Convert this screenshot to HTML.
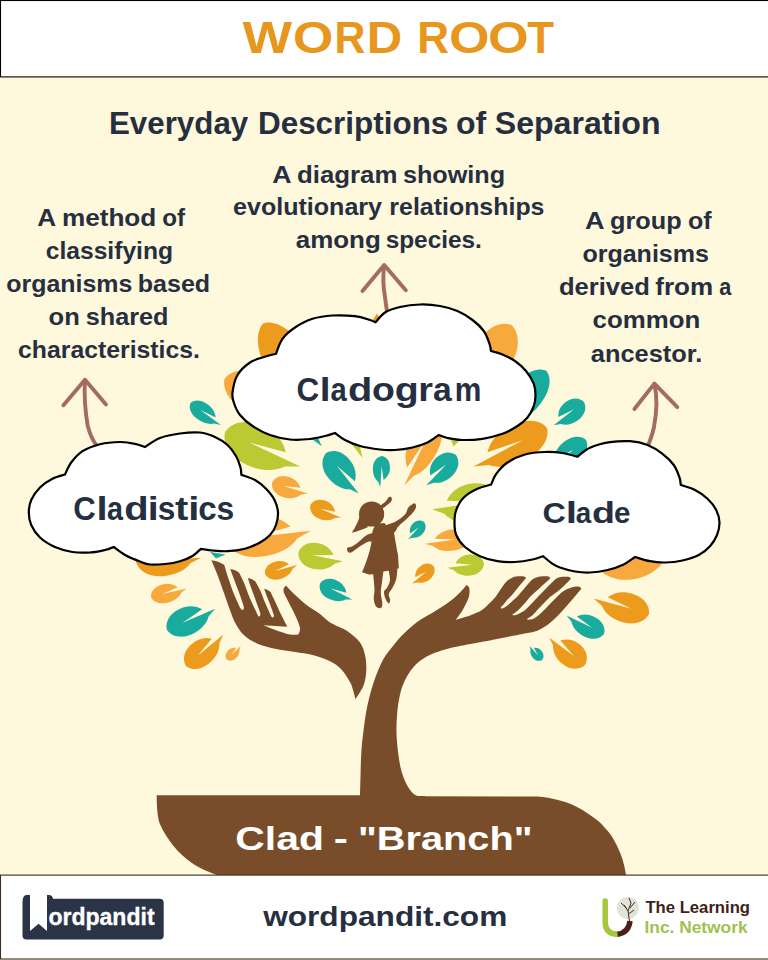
<!DOCTYPE html><html><head><meta charset="utf-8"><title>Word Root - Clad</title>
<style>html,body{margin:0;padding:0;background:#fff}svg{display:block}text{font-family:"Liberation Sans",sans-serif;white-space:pre}</style></head><body>
<svg width="768" height="960" viewBox="0 0 768 960">
<rect x="0" y="0" width="768" height="960" fill="#fef8dc"/>
<rect x="0.5" y="0.5" width="769" height="76.4" fill="#fff" stroke="#000" stroke-width="1.1"/>
<text y="52.5" font-size="44.3" fill="#e8971e" font-weight="bold"><tspan x="242.60" textLength="49.54" lengthAdjust="spacingAndGlyphs">W</tspan><tspan x="292.93" textLength="40.29" lengthAdjust="spacingAndGlyphs">O</tspan><tspan x="334.42" textLength="30.93" lengthAdjust="spacingAndGlyphs">R</tspan><tspan x="366.81" textLength="35.46" lengthAdjust="spacingAndGlyphs">D</tspan> <tspan x="417.13" textLength="31.84" lengthAdjust="spacingAndGlyphs">R</tspan><tspan x="448.92" textLength="40.51" lengthAdjust="spacingAndGlyphs">O</tspan><tspan x="488.11" textLength="40.63" lengthAdjust="spacingAndGlyphs">O</tspan><tspan x="527.26" textLength="26.82" lengthAdjust="spacingAndGlyphs">T</tspan></text>
<g font-size="30.8" fill="#262f40" font-weight="bold">
<text x="108.96" y="134.0" textLength="139.28" lengthAdjust="spacingAndGlyphs">Everyday</text>
<text x="257.96" y="134.0" textLength="190.37" lengthAdjust="spacingAndGlyphs">Descriptions</text>
<text x="455.92" y="134.0" textLength="30.25" lengthAdjust="spacingAndGlyphs">of</text>
<text x="494.74" y="134.0" textLength="165.79" lengthAdjust="spacingAndGlyphs">Separation</text>
</g>
<g font-size="24" fill="#262f40" font-weight="bold">
<text x="272.23" y="183.4" textLength="19.29" lengthAdjust="spacingAndGlyphs">A</text>
<text x="296.97" y="183.4" textLength="100.38" lengthAdjust="spacingAndGlyphs">diagram</text>
<text x="402.92" y="183.4" textLength="102.23" lengthAdjust="spacingAndGlyphs">showing</text>
<text x="233.00" y="215.3" textLength="149.05" lengthAdjust="spacingAndGlyphs">evolutionary</text>
<text x="389.38" y="215.3" textLength="155.09" lengthAdjust="spacingAndGlyphs">relationships</text>
<text x="295.82" y="247.6" textLength="84.94" lengthAdjust="spacingAndGlyphs">among</text>
<text x="385.65" y="247.6" textLength="96.19" lengthAdjust="spacingAndGlyphs">species.</text>
</g>
<g font-size="24" fill="#262f40" font-weight="bold">
<text x="37.25" y="225.8" textLength="18.86" lengthAdjust="spacingAndGlyphs">A</text>
<text x="61.90" y="225.8" textLength="94.42" lengthAdjust="spacingAndGlyphs">method</text>
<text x="162.33" y="225.8" textLength="22.84" lengthAdjust="spacingAndGlyphs">of</text>
<text x="45.71" y="258.7" textLength="127.36" lengthAdjust="spacingAndGlyphs">classifying</text>
<text x="6.30" y="292.3" textLength="125.95" lengthAdjust="spacingAndGlyphs">organisms</text>
<text x="137.77" y="292.3" textLength="72.36" lengthAdjust="spacingAndGlyphs">based</text>
<text x="48.58" y="324.9" textLength="31.20" lengthAdjust="spacingAndGlyphs">on</text>
<text x="85.72" y="324.9" textLength="82.71" lengthAdjust="spacingAndGlyphs">shared</text>
<text x="18.01" y="357.9" textLength="181.98" lengthAdjust="spacingAndGlyphs">characteristics.</text>
</g>
<g font-size="24" fill="#262f40" font-weight="bold">
<text x="585.02" y="228.7" textLength="19.51" lengthAdjust="spacingAndGlyphs">A</text>
<text x="609.99" y="228.7" textLength="71.59" lengthAdjust="spacingAndGlyphs">group</text>
<text x="688.00" y="228.7" textLength="23.68" lengthAdjust="spacingAndGlyphs">of</text>
<text x="582.40" y="261.6" textLength="126.56" lengthAdjust="spacingAndGlyphs">organisms</text>
<text x="558.98" y="294.9" textLength="90.84" lengthAdjust="spacingAndGlyphs">derived</text>
<text x="655.31" y="294.9" textLength="57.88" lengthAdjust="spacingAndGlyphs">from</text>
<text x="719.25" y="294.9" textLength="12.06" lengthAdjust="spacingAndGlyphs">a</text>
<text x="592.57" y="328.3" textLength="107.64" lengthAdjust="spacingAndGlyphs">common</text>
<text x="590.84" y="361.5" textLength="111.44" lengthAdjust="spacingAndGlyphs">ancestor.</text>
</g>
<g>
<path d="M0 0C2 -14 14 -27 36 -28C54 -29 68 -22 77 -9L32 -0.5L100 0.5L83 9C75 20 60 28 40 28C18 28 3 16 0 0Z" fill="#ec9b1d" transform="translate(263.0 323.5) rotate(57.8) scale(1.258 0.786)"/>
<path d="M0 0C2 -14 14 -27 36 -28C54 -29 68 -22 77 -9L32 -0.5L100 0.5L83 9C75 20 60 28 40 28C18 28 3 16 0 0Z" fill="#f8a93d" transform="translate(224.5 379.0) rotate(25.5) scale(0.836 0.679)"/>
<path d="M0 0C2 -14 14 -27 36 -28C54 -29 68 -22 77 -9L32 -0.5L100 0.5L83 9C75 20 60 28 40 28C18 28 3 16 0 0Z" fill="#19ac9e" transform="translate(190.5 403.0) rotate(35.8) scale(0.376 0.321)"/>
<path d="M0 0C2 -14 14 -27 36 -28C54 -29 68 -22 77 -9L32 -0.5L100 0.5L83 9C75 20 60 28 40 28C18 28 3 16 0 0Z" fill="#bbc932" transform="translate(225.0 432.0) rotate(24.4) scale(0.828 0.750)"/>
<path d="M0 0C2 -14 14 -27 36 -28C54 -29 68 -22 77 -9L32 -0.5L100 0.5L83 9C75 20 60 28 40 28C18 28 3 16 0 0Z" fill="#19ac9e" transform="translate(326.0 453.0) rotate(50.7) scale(0.521 0.500)"/>
<path d="M0 0C2 -14 14 -27 36 -28C54 -29 68 -22 77 -9L32 -0.5L100 0.5L83 9C75 20 60 28 40 28C18 28 3 16 0 0Z" fill="#f8a93d" transform="translate(272.0 483.0) rotate(16.1) scale(0.372 0.375)"/>
<path d="M0 0C2 -14 14 -27 36 -28C54 -29 68 -22 77 -9L32 -0.5L100 0.5L83 9C75 20 60 28 40 28C18 28 3 16 0 0Z" fill="#ec9b1d" transform="translate(310.4 505.0) rotate(21.9) scale(0.330 0.339)"/>
<path d="M0 0C2 -14 14 -27 36 -28C54 -29 68 -22 77 -9L32 -0.5L100 0.5L83 9C75 20 60 28 40 28C18 28 3 16 0 0Z" fill="#f8a93d" transform="translate(226.0 541.0) rotate(-7.1) scale(0.855 0.714)"/>
<path d="M0 0C2 -14 14 -27 36 -28C54 -29 68 -22 77 -9L32 -0.5L100 0.5L83 9C75 20 60 28 40 28C18 28 3 16 0 0Z" fill="#bbc932" transform="translate(298.3 553.0) rotate(10.1) scale(0.454 0.464)"/>
<path d="M0 0C2 -14 14 -27 36 -28C54 -29 68 -22 77 -9L32 -0.5L100 0.5L83 9C75 20 60 28 40 28C18 28 3 16 0 0Z" fill="#19ac9e" transform="translate(382.0 456.0) rotate(92.8) scale(0.310 0.304)"/>
<path d="M0 0C2 -14 14 -27 36 -28C54 -29 68 -22 77 -9L32 -0.5L100 0.5L83 9C75 20 60 28 40 28C18 28 3 16 0 0Z" fill="#f8a93d" transform="translate(437.0 418.0) rotate(116.2) scale(0.747 -0.536)"/>
<path d="M0 0C2 -14 14 -27 36 -28C54 -29 68 -22 77 -9L32 -0.5L100 0.5L83 9C75 20 60 28 40 28C18 28 3 16 0 0Z" fill="#19ac9e" transform="translate(456.0 455.0) rotate(134.8) scale(0.423 -0.429)"/>
<path d="M0 0C2 -14 14 -27 36 -28C54 -29 68 -22 77 -9L32 -0.5L100 0.5L83 9C75 20 60 28 40 28C18 28 3 16 0 0Z" fill="#19ac9e" transform="translate(424.0 522.0) rotate(132.9) scale(0.232 -0.250)"/>
<path d="M0 0C2 -14 14 -27 36 -28C54 -29 68 -22 77 -9L32 -0.5L100 0.5L83 9C75 20 60 28 40 28C18 28 3 16 0 0Z" fill="#f8a93d" transform="translate(470.0 538.0) rotate(173.1) scale(0.455 -0.375)"/>
<path d="M0 0C2 -14 14 -27 36 -28C54 -29 68 -22 77 -9L32 -0.5L100 0.5L83 9C75 20 60 28 40 28C18 28 3 16 0 0Z" fill="#bbc932" transform="translate(484.0 563.5) rotate(173.6) scale(0.369 -0.375)"/>
<path d="M0 0C2 -14 14 -27 36 -28C54 -29 68 -22 77 -9L32 -0.5L100 0.5L83 9C75 20 60 28 40 28C18 28 3 16 0 0Z" fill="#ec9b1d" transform="translate(433.5 566.0) rotate(141.3) scale(0.277 -0.286)"/>
<path d="M0 0C2 -14 14 -27 36 -28C54 -29 68 -22 77 -9L32 -0.5L100 0.5L83 9C75 20 60 28 40 28C18 28 3 16 0 0Z" fill="#f8a93d" transform="translate(511.5 325.0) rotate(121.2) scale(0.877 -0.714)"/>
<path d="M0 0C2 -14 14 -27 36 -28C54 -29 68 -22 77 -9L32 -0.5L100 0.5L83 9C75 20 60 28 40 28C18 28 3 16 0 0Z" fill="#19ac9e" transform="translate(546.5 371.0) rotate(128.2) scale(0.751 -0.554)"/>
<path d="M0 0C2 -14 14 -27 36 -28C54 -29 68 -22 77 -9L32 -0.5L100 0.5L83 9C75 20 60 28 40 28C18 28 3 16 0 0Z" fill="#19ac9e" transform="translate(584.0 402.0) rotate(143.0) scale(0.382 -0.393)"/>
<path d="M0 0C2 -14 14 -27 36 -28C54 -29 68 -22 77 -9L32 -0.5L100 0.5L83 9C75 20 60 28 40 28C18 28 3 16 0 0Z" fill="#ec9b1d" transform="translate(547.0 428.0) rotate(152.6) scale(0.830 -0.661)"/>
<path d="M0 0C2 -14 14 -27 36 -28C54 -29 68 -22 77 -9L32 -0.5L100 0.5L83 9C75 20 60 28 40 28C18 28 3 16 0 0Z" fill="#19ac9e" transform="translate(586.0 440.0) rotate(141.7) scale(0.484 -0.429)"/>
<path d="M0 0C2 -14 14 -27 36 -28C54 -29 68 -22 77 -9L32 -0.5L100 0.5L83 9C75 20 60 28 40 28C18 28 3 16 0 0Z" fill="#f8a93d" transform="translate(592.0 556.0) rotate(-5.2) scale(0.884 0.964)"/>
<path d="M0 0C2 -14 14 -27 36 -28C54 -29 68 -22 77 -9L32 -0.5L100 0.5L83 9C75 20 60 28 40 28C18 28 3 16 0 0Z" fill="#ec9b1d" transform="translate(649.0 614.0) rotate(-164.2) scale(0.575 -0.536)"/>
<path d="M0 0C2 -14 14 -27 36 -28C54 -29 68 -22 77 -9L32 -0.5L100 0.5L83 9C75 20 60 28 40 28C18 28 3 16 0 0Z" fill="#19ac9e" transform="translate(604.0 634.0) rotate(-153.5) scale(0.417 -0.393)"/>
<path d="M0 0C2 -14 14 -27 36 -28C54 -29 68 -22 77 -9L32 -0.5L100 0.5L83 9C75 20 60 28 40 28C18 28 3 16 0 0Z" fill="#ec9b1d" transform="translate(585.0 665.0) rotate(-142.2) scale(0.448 -0.464)"/>
<path d="M0 0C2 -14 14 -27 36 -28C54 -29 68 -22 77 -9L32 -0.5L100 0.5L83 9C75 20 60 28 40 28C18 28 3 16 0 0Z" fill="#19ac9e" transform="translate(542.0 660.0) rotate(-130.7) scale(0.187 -0.196)"/>
<path d="M0 0C2 -14 14 -27 36 -28C54 -29 68 -22 77 -9L32 -0.5L100 0.5L83 9C75 20 60 28 40 28C18 28 3 16 0 0Z" fill="#ec9b1d" transform="translate(136.0 562.0) rotate(-4.0) scale(0.652 0.571)"/>
<path d="M0 0C2 -14 14 -27 36 -28C54 -29 68 -22 77 -9L32 -0.5L100 0.5L83 9C75 20 60 28 40 28C18 28 3 16 0 0Z" fill="#f8a93d" transform="translate(151.0 597.0) rotate(-13.8) scale(0.366 0.339)"/>
<path d="M0 0C2 -14 14 -27 36 -28C54 -29 68 -22 77 -9L32 -0.5L100 0.5L83 9C75 20 60 28 40 28C18 28 3 16 0 0Z" fill="#19ac9e" transform="translate(167.0 630.0) rotate(-24.1) scale(0.526 0.500)"/>
<path d="M0 0C2 -14 14 -27 36 -28C54 -29 68 -22 77 -9L32 -0.5L100 0.5L83 9C75 20 60 28 40 28C18 28 3 16 0 0Z" fill="#ec9b1d" transform="translate(186.0 666.0) rotate(-40.3) scale(0.485 0.464)"/>
<path d="M0 0C2 -14 14 -27 36 -28C54 -29 68 -22 77 -9L32 -0.5L100 0.5L83 9C75 20 60 28 40 28C18 28 3 16 0 0Z" fill="#f8a93d" transform="translate(226.7 659.6) rotate(-44.4) scale(0.194 0.196)"/>
<path d="M0 0C2 -14 14 -27 36 -28C54 -29 68 -22 77 -9L32 -0.5L100 0.5L83 9C75 20 60 28 40 28C18 28 3 16 0 0Z" fill="#ec9b1d" transform="translate(265.0 574.0) rotate(-16.0) scale(0.333 0.321)"/>
<path d="M0 0C2 -14 14 -27 36 -28C54 -29 68 -22 77 -9L32 -0.5L100 0.5L83 9C75 20 60 28 40 28C18 28 3 16 0 0Z" fill="#19ac9e" transform="translate(320.0 583.5) rotate(25.9) scale(0.361 0.357)"/>
<path d="M0 0C2 -14 14 -27 36 -28C54 -29 68 -22 77 -9L32 -0.5L100 0.5L83 9C75 20 60 28 40 28C18 28 3 16 0 0Z" fill="#bbc932" transform="translate(500.0 500.0) rotate(172.5) scale(0.686 -0.714)"/>
<path d="M348 440L360 447L362.5 458Q355 448 348 440Z" fill="#bbc932"/>
<path d="M451 440L459 441L453.5 446.5Z" fill="#bbc932"/>
<path d="M210 552L225.5 554.5L216 558.5Z" fill="#19ac9e"/>
<path d="M371.5 322L377 313.5L381.5 321Z" fill="#ec9b1d"/>
<path d="M310.5 438L318.5 439L321.8 446.3Z" fill="#19ac9e"/>
</g>
<g fill="#7a4d2a">
<path d="M360.0 796.0 C360.1 792.2 360.4 780.5 360.6 773.0 C360.8 765.5 360.9 758.3 361.4 751.0 C361.9 743.7 362.7 736.9 363.7 729.3 C364.7 721.7 365.7 713.5 367.4 705.6 C369.1 697.7 371.2 689.5 373.8 681.9 C376.3 674.3 379.6 666.1 382.9 660.0 C386.2 653.9 390.1 649.6 393.8 645.0 C397.4 640.4 400.6 636.7 405.0 632.5 C409.4 628.3 415.0 623.5 420.0 620.0 C425.0 616.5 430.0 614.4 435.0 611.2 C440.0 608.1 445.8 604.4 450.0 601.2 C454.2 598.1 457.2 595.2 460.0 592.5 C462.8 589.8 465.4 586.2 466.5 585.0 C467.0 585.5 468.9 586.0 469.3 588.0 C469.7 590.0 469.8 593.4 468.8 597.0 C467.7 600.6 465.2 605.6 463.0 609.4 C460.8 613.2 456.8 618.2 455.6 620.0 C458.2 619.2 466.9 616.7 471.2 615.0 C475.6 613.3 478.9 612.0 482.0 610.0 C485.1 608.0 487.7 605.1 490.0 602.8 C492.3 600.5 494.2 598.6 496.0 596.2 C497.8 593.9 499.2 591.2 501.0 588.7 C502.8 586.2 504.9 583.1 506.8 581.2 C508.8 579.3 510.6 578.2 512.7 577.4 C514.8 576.6 517.4 576.4 519.3 576.3 C521.2 576.1 522.9 576.2 524.0 576.5 C525.1 576.8 525.8 577.3 525.8 578.0 C525.8 578.7 525.3 578.9 523.9 580.6 C522.5 582.3 519.6 585.6 517.5 588.2 C515.4 590.8 512.7 594.2 511.1 596.0 C509.5 597.8 509.3 597.7 508.0 599.1 C506.7 600.5 504.7 603.1 503.5 604.5 C502.3 605.9 500.9 607.0 500.8 607.6 C500.7 608.2 501.8 608.8 503.0 608.3 C504.2 607.8 506.3 606.2 508.0 604.9 C509.7 603.5 511.6 601.7 513.2 600.2 C514.9 598.7 516.0 598.0 517.9 596.0 C519.8 594.0 522.2 590.8 524.5 588.2 C526.8 585.6 529.4 582.1 531.4 580.3 C533.4 578.5 534.6 578.1 536.5 577.4 C538.4 576.7 540.7 576.5 542.7 576.3 C544.7 576.1 547.1 576.1 548.3 576.4 C549.5 576.7 550.0 577.3 550.0 578.0 C550.0 578.7 549.8 578.9 548.0 580.6 C546.2 582.3 542.4 585.6 539.5 588.2 C536.6 590.8 533.3 593.6 530.9 596.0 C528.5 598.4 527.3 600.5 525.2 602.8 C523.1 605.1 520.5 608.0 518.4 610.0 C516.3 612.0 513.2 613.7 512.6 614.6 C512.0 615.5 513.5 615.4 514.5 615.3 C515.5 615.2 516.6 614.9 518.4 614.0 C520.2 613.1 523.0 611.7 525.2 610.0 C527.4 608.3 529.1 606.1 531.4 603.8 C533.6 601.5 536.2 598.6 538.7 596.0 C541.2 593.4 544.0 590.5 546.5 588.0 C549.0 585.5 551.6 582.7 553.5 581.0 C555.4 579.3 556.2 578.5 558.0 577.8 C559.8 577.1 562.6 576.9 564.4 576.8 C566.2 576.7 567.9 576.7 569.0 577.0 C570.1 577.3 570.8 577.9 570.8 578.6 C570.8 579.3 570.6 579.2 568.8 581.0 C567.0 582.8 563.0 587.0 560.0 589.5 C557.0 592.0 553.0 594.7 551.0 596.3 C549.0 597.9 550.0 597.1 548.0 599.1 C546.0 601.1 541.8 605.3 539.2 608.0 C536.7 610.7 534.5 613.5 532.5 615.3 C530.5 617.1 527.7 618.3 527.2 619.0 C526.7 619.7 528.4 619.7 529.5 619.6 C530.6 619.5 532.2 619.4 534.0 618.4 C535.8 617.4 538.0 615.8 540.3 613.7 C542.6 611.6 545.1 608.9 548.0 605.9 C550.9 602.9 555.3 598.4 557.8 596.0 C560.3 593.6 561.3 592.7 563.0 591.5 C564.7 590.3 566.0 589.5 568.0 588.7 C570.0 587.9 572.8 587.0 574.7 586.7 C576.6 586.4 578.4 586.6 579.5 586.9 C580.6 587.2 581.3 587.9 581.3 588.6 C581.3 589.3 580.5 589.7 579.2 591.2 C578.0 592.7 575.7 595.6 573.8 597.8 C571.9 600.0 570.1 602.1 568.0 604.5 C565.9 606.9 563.5 609.6 561.3 612.0 C559.1 614.4 556.9 616.6 554.7 618.7 C552.5 620.8 550.2 622.8 548.0 624.5 C545.8 626.2 543.5 627.5 541.3 628.7 C539.1 629.9 537.8 630.7 534.7 631.6 C531.6 632.5 526.8 633.2 522.6 634.0 C518.4 634.8 514.9 635.5 509.5 636.6 C504.1 637.7 494.6 639.6 490.0 640.5 C485.4 641.4 486.6 641.0 481.7 641.9 C476.8 642.8 466.9 644.5 460.8 645.8 C454.7 647.1 449.8 648.1 445.0 649.5 C440.2 650.9 435.8 652.3 432.0 654.0 C428.2 655.7 425.0 657.4 422.0 659.5 C419.0 661.6 416.4 663.8 414.0 666.5 C411.6 669.2 409.4 672.2 407.5 675.5 C405.6 678.8 403.9 682.2 402.5 686.0 C401.1 689.8 400.2 693.7 399.3 698.0 C398.4 702.3 397.8 706.2 397.3 712.0 C396.8 717.8 396.3 725.9 396.5 733.0 C396.7 740.1 397.5 748.1 398.4 754.8 C399.3 761.5 400.3 767.5 402.0 773.0 C403.7 778.5 406.1 783.9 408.4 787.6 C410.7 791.3 412.9 793.9 415.7 795.2 C418.5 796.6 423.4 795.9 425.0 796.0 L425.0 800.0 L360.0 800.0 Z"/>
<path d="M156.7 795.2L362 795.2L420 796.2L537.5 796.5C550 797 570 802 582.5 810C590 815 596 819 600 822.5C606 829 610 833 612.5 837.5C617 845 619 850 621 855C623.5 862 625 868 626 875L217 875C205 871 200 868 194 864.6C186 859 179 853 173.3 845.8C166 836 161 828 158.75 820.8C157 812 156.7 804 156.7 795.2Z"/>
<path d="M211.4 560.3 C212.5 560.5 215.8 561.0 218.0 561.8 C220.2 562.6 223.2 564.5 224.3 565.0 C225.0 567.2 226.7 573.4 228.4 578.4 C230.1 583.4 232.5 590.3 234.3 594.8 C236.1 599.3 237.8 602.9 239.0 605.4 C240.2 607.9 240.9 609.0 241.6 609.6 C242.3 610.2 243.1 609.8 243.4 609.3 C243.8 608.8 244.4 609.4 243.7 606.6 C243.0 603.8 240.7 597.2 239.0 592.5 C237.3 587.8 235.2 582.3 233.7 578.4 C232.2 574.5 230.8 570.6 230.2 569.0 C231.0 569.2 233.5 569.6 235.0 570.2 C236.5 570.8 238.3 572.2 239.0 572.6 C239.8 574.2 241.9 577.9 243.7 582.0 C245.4 586.1 247.6 592.5 249.5 597.2 C251.4 601.9 254.0 606.9 255.4 610.0 C256.9 613.1 257.4 615.0 258.2 616.0 C259.0 617.0 259.7 616.4 260.0 615.8 C260.3 615.2 260.8 615.1 260.0 612.4 C259.2 609.7 256.9 603.8 255.4 599.5 C253.8 595.2 252.0 590.2 250.7 586.6 C249.4 583.0 248.3 579.4 247.8 577.9 C248.5 578.1 250.7 578.6 252.0 579.2 C253.3 579.8 254.8 581.0 255.4 581.4 C256.2 582.8 258.4 586.6 260.0 590.0 C261.6 593.4 263.2 598.2 264.8 601.9 C266.4 605.6 268.3 609.9 269.5 612.4 C270.7 614.9 271.1 616.2 271.8 617.0 C272.5 617.8 273.2 617.5 273.5 617.0 C273.8 616.5 274.3 616.5 273.6 614.2 C272.9 611.9 270.8 606.4 269.5 603.0 C268.2 599.6 266.8 596.0 265.9 593.7 C265.0 591.4 264.5 589.8 264.2 589.0 C264.8 589.1 266.4 589.4 267.5 589.9 C268.6 590.4 270.1 591.6 270.6 591.9 C271.4 593.6 273.5 598.1 275.3 601.9 C277.1 605.7 279.2 610.6 281.2 614.8 C283.2 618.9 286.3 624.8 287.3 626.8 L263.3 625.3 C265.8 626.2 273.6 629.5 278.0 631.0 C282.4 632.5 286.6 633.9 290.0 634.5 C293.4 635.1 297.0 634.4 298.4 634.4 C298.7 633.3 300.5 631.1 300.0 628.0 C299.5 624.9 297.1 619.8 295.3 615.6 C293.5 611.4 290.8 606.6 289.0 603.0 C287.2 599.4 285.3 596.1 284.4 593.8 C283.5 591.4 283.3 590.4 283.6 589.0 C283.9 587.6 285.6 586.2 286.0 585.6 C287.3 587.0 290.4 590.6 293.8 593.8 C297.1 596.9 301.9 601.3 306.2 604.7 C310.6 608.1 316.0 611.0 320.0 614.0 C324.0 617.0 325.4 619.6 330.0 622.5 C334.6 625.4 342.5 627.9 347.5 631.2 C352.5 634.6 357.1 638.5 360.0 642.5 C362.9 646.5 363.9 650.4 365.0 655.0 C366.1 659.6 366.5 665.0 366.3 670.0 C366.1 675.0 365.5 680.1 363.7 685.0 C361.9 689.9 356.9 696.8 355.5 699.2 C355.1 697.7 353.9 692.9 353.0 690.0 C352.1 687.1 352.0 685.5 350.0 682.0 C348.0 678.5 344.3 672.5 341.0 669.0 C337.7 665.5 334.8 663.6 330.0 661.2 C325.2 658.9 318.3 656.5 312.5 655.0 C306.7 653.5 301.2 653.0 295.0 652.0 C288.8 651.0 281.2 650.1 275.0 648.8 C268.8 647.4 262.7 646.0 257.5 643.8 C252.3 641.5 247.5 638.5 243.8 635.0 C240.0 631.5 237.3 626.7 235.0 622.5 C232.7 618.3 231.9 615.0 230.0 610.0 C228.1 605.0 225.8 598.3 223.8 592.5 C221.7 586.7 219.6 580.4 217.5 575.0 C215.4 569.6 212.4 562.8 211.4 560.3 Z"/>
<ellipse cx="371.6" cy="514" rx="12.6" ry="12.6"/>
<path d="M360.2 515C358.5 521 355.5 527 351.8 532.8C357 531.5 363 529.5 368 527Z"/>
<path d="M379 506C383 504 386 501.5 387.8 498.5C388.5 496.5 391 496 391.8 498C392.3 500.5 391 502.5 389 503.5C386 506 383.5 508 381 509.5Z"/>
<path d="M385.5 525.3 C387.2 524.6 392.4 523.2 395.6 521.4 C398.9 519.6 402.9 516.6 405.0 514.4 C407.1 512.2 407.0 509.6 408.0 508.0 C409.0 506.4 410.1 505.8 411.2 505.0 C412.4 504.2 414.2 503.0 415.0 503.4 C415.8 503.8 416.4 505.7 416.0 507.3 C415.6 508.9 414.4 510.8 412.8 512.8 C411.2 514.8 408.9 516.8 406.6 519.0 C404.3 521.2 400.6 524.0 398.8 526.0 C396.9 528.0 396.1 530.2 395.6 531.0 L385.0 532.0 Z"/>
<path d="M373.0 533.0 C371.8 533.4 368.5 533.9 366.0 535.5 C363.5 537.1 360.4 540.7 358.0 542.5 C355.6 544.3 353.7 545.5 351.9 546.4 C350.1 547.3 347.8 547.1 347.2 548.0 C346.6 548.9 347.2 551.2 348.0 551.9 C348.8 552.6 349.9 553.1 351.9 552.2 C353.8 551.3 357.1 548.3 359.7 546.6 C362.3 544.9 365.4 542.9 367.5 542.0 C369.6 541.1 371.7 541.6 372.5 541.5 Z"/>
<path d="M374.5 524L384.5 523L386.5 526C390 524.5 394 526 396.5 529.5L394 533C394.8 537 395.6 542.5 398 555L398.8 568.3C393 570 386 571.4 381.6 571.6C377 573.5 373 575 369 574.5L362 572.2C364.5 567 366.7 561.25 369.8 550.3C371 545 371.9 541 372 536L372.2 533.5C372.5 530.5 373.5 528 374.5 527Z"/>
<path d="M373.0 572.0 C373.2 574.9 374.4 584.9 374.5 589.4 C374.6 593.9 373.5 595.9 373.8 598.8 C374.0 601.6 374.8 605.0 376.0 606.5 C377.2 608.0 379.8 608.5 380.8 608.0 C381.9 607.5 382.3 606.0 382.3 603.4 C382.3 600.8 380.8 596.4 380.8 592.5 C380.8 588.6 381.9 583.6 382.3 580.0 C382.8 576.4 383.3 572.5 383.5 571.0 Z"/>
<path d="M388.5 570.0 C388.8 571.7 390.2 577.0 390.0 580.0 C389.8 583.0 388.0 585.8 387.0 587.8 C386.0 589.8 384.2 589.9 384.0 591.7 C383.8 593.5 384.7 596.8 385.5 598.8 C386.3 600.7 387.8 603.1 388.6 603.4 C389.4 603.7 390.2 601.9 390.2 600.3 C390.2 598.7 388.4 596.1 388.8 594.0 C389.2 591.9 391.2 590.4 392.5 587.8 C393.8 585.2 395.6 581.6 396.4 578.4 C397.2 575.2 397.2 570.1 397.4 568.5 Z"/>
</g>
<g fill="none" stroke="#a36b62" stroke-width="3.9" stroke-linecap="round" stroke-linejoin="round">
<path d="M63.4 405.3L85 379.8L106 404.5"/><path d="M85 380C84 395 84.5 407 87.7 425.6C90 435 93 441 97 446"/>
<path d="M362.5 291L384.2 265L405.8 290.3"/><path d="M384.2 265.5C383 275 383.5 289 385 297C386 305 387 311 388 318"/>
<path d="M634.4 409L654.4 383.6L677.3 407.2"/><path d="M654.4 384C657 395 657.5 408.75 653.9 427.5C652 436 650 441 647 448"/>
</g>
<path d="M276.0 353.8 C277.1 351.2 279.3 343.1 282.5 338.8 C285.7 334.4 290.0 330.8 295.0 327.5 C300.0 324.2 306.2 320.8 312.5 318.8 C318.8 316.8 325.4 315.9 332.5 315.5 C339.6 315.1 348.8 315.5 355.0 316.2 C361.2 317.0 366.6 319.0 370.0 320.0 C373.4 321.0 374.6 321.9 375.5 322.3 C377.1 320.7 380.9 315.1 385.0 312.5 C389.1 309.9 394.2 308.3 400.0 307.0 C405.8 305.7 413.3 304.7 420.0 304.5 C426.7 304.3 433.8 304.9 440.0 306.0 C446.2 307.1 452.1 308.7 457.5 311.0 C462.9 313.3 468.1 316.7 472.5 320.0 C476.9 323.3 480.9 327.0 483.8 331.0 C486.6 335.0 488.3 340.4 489.5 343.8 C490.7 347.1 490.8 349.8 491.0 351.0 C492.9 351.6 498.5 352.8 502.5 354.5 C506.5 356.2 511.1 358.2 515.0 361.0 C518.9 363.8 522.9 367.2 526.0 371.0 C529.1 374.8 532.2 379.8 533.8 383.8 C535.3 387.8 535.5 391.3 535.5 395.0 C535.5 398.7 535.1 402.2 533.8 406.0 C532.4 409.8 530.2 414.2 527.5 417.5 C524.8 420.8 521.7 423.3 517.5 426.0 C513.3 428.7 508.3 431.6 502.5 433.8 C496.7 435.9 489.2 437.7 482.5 438.8 C475.8 439.8 468.3 440.1 462.5 440.0 C456.7 439.9 451.5 438.8 447.5 438.0 C443.5 437.2 440.2 435.5 438.8 435.0 C436.9 436.2 431.9 440.4 427.5 442.5 C423.1 444.6 417.9 446.2 412.5 447.5 C407.1 448.8 400.4 449.7 395.0 450.0 C389.6 450.3 385.8 450.2 380.0 449.5 C374.2 448.8 365.8 447.6 360.0 446.0 C354.2 444.4 349.2 442.2 345.0 440.0 C340.8 437.8 336.7 434.2 335.0 433.0 C333.3 433.5 329.2 435.0 325.0 436.0 C320.8 437.0 315.8 438.4 310.0 439.0 C304.2 439.6 296.7 440.2 290.0 439.5 C283.3 438.8 276.2 437.2 270.0 435.0 C263.8 432.8 257.5 429.3 252.5 426.0 C247.5 422.7 243.1 418.9 240.0 415.0 C236.9 411.1 235.0 406.2 233.8 402.5 C232.5 398.8 231.9 397.1 232.5 392.5 C233.1 387.9 234.6 380.0 237.5 375.0 C240.4 370.0 245.6 365.5 250.0 362.5 C254.4 359.5 259.4 358.5 263.8 357.0 C268.1 355.5 274.0 354.3 276.0 353.8 Z" fill="#fff" stroke="#000" stroke-width="2.2" stroke-linejoin="miter"/>
<path d="M65.0 474.5 C66.0 472.5 68.3 466.4 71.2 462.5 C74.2 458.6 77.7 454.3 82.5 451.2 C87.3 448.2 93.8 445.8 100.0 444.2 C106.2 442.7 114.2 442.1 120.0 442.0 C125.8 441.9 130.8 442.9 135.0 443.8 C139.2 444.6 143.3 446.5 145.0 447.0 C147.5 445.5 154.2 440.2 160.0 438.0 C165.8 435.8 173.3 434.4 180.0 433.5 C186.7 432.6 194.2 431.9 200.0 432.5 C205.8 433.1 210.4 434.9 215.0 437.0 C219.6 439.1 224.0 441.8 227.5 445.0 C231.0 448.2 233.8 452.2 236.0 456.0 C238.2 459.8 239.6 464.4 240.5 467.5 C241.4 470.6 241.2 473.5 241.3 474.7 C243.6 475.6 250.9 477.7 255.0 480.0 C259.1 482.3 262.8 485.4 266.0 488.8 C269.2 492.1 272.5 496.0 274.5 500.0 C276.5 504.0 277.8 508.3 278.0 512.5 C278.2 516.7 277.3 521.2 276.0 525.0 C274.7 528.8 272.7 532.1 270.0 535.0 C267.3 537.9 264.2 540.2 260.0 542.5 C255.8 544.8 250.4 547.3 245.0 548.8 C239.6 550.2 232.9 551.0 227.5 551.2 C222.1 551.5 216.9 550.9 212.5 550.5 C208.1 550.1 202.9 549.0 201.0 548.8 C199.6 550.0 196.0 553.9 192.5 556.0 C189.0 558.1 184.6 559.9 180.0 561.2 C175.4 562.6 170.0 563.5 165.0 564.0 C160.0 564.5 154.2 564.9 150.0 564.5 C145.8 564.1 144.2 563.1 140.0 561.5 C135.8 559.9 129.4 557.4 125.0 555.0 C120.6 552.6 115.6 548.3 113.8 547.0 C112.3 547.5 109.0 549.1 105.0 550.0 C101.0 550.9 95.4 552.2 90.0 552.5 C84.6 552.8 78.3 552.9 72.5 552.0 C66.7 551.1 60.4 549.4 55.0 547.0 C49.6 544.6 44.0 541.2 40.0 537.5 C36.0 533.8 33.1 529.2 31.2 525.0 C29.4 520.8 28.8 516.7 28.8 512.5 C28.8 508.3 29.4 504.2 31.2 500.0 C33.1 495.8 36.5 491.0 40.0 487.5 C43.5 484.0 48.3 480.9 52.5 478.8 C56.7 476.6 62.9 475.2 65.0 474.5 Z" fill="#fff" stroke="#000" stroke-width="2.2" stroke-linejoin="miter"/>
<path d="M491.2 484.5 C492.1 482.7 493.5 477.4 496.2 473.8 C499.0 470.1 502.7 465.7 507.5 462.5 C512.3 459.3 518.8 456.2 525.0 454.5 C531.2 452.8 538.8 452.2 545.0 452.0 C551.2 451.8 557.1 452.2 562.5 453.0 C567.9 453.8 574.8 456.1 577.2 456.8 C579.4 455.2 584.5 450.2 590.0 447.8 C595.5 445.3 603.3 443.3 610.0 442.2 C616.7 441.2 623.8 440.8 630.0 441.2 C636.2 441.7 642.1 442.9 647.5 445.0 C652.9 447.1 658.1 450.4 662.5 453.8 C666.9 457.1 670.9 461.0 673.8 465.0 C676.6 469.0 678.3 474.2 679.5 477.5 C680.7 480.8 680.5 483.8 680.8 485.0 C683.1 485.8 690.5 487.7 695.0 490.0 C699.5 492.3 704.0 495.4 707.5 498.8 C711.0 502.1 714.2 506.0 716.2 510.0 C718.2 514.0 719.4 518.3 719.5 522.5 C719.6 526.7 718.6 531.0 717.0 535.0 C715.4 539.0 713.0 542.9 710.0 546.2 C707.0 549.6 703.3 552.6 698.8 555.0 C694.2 557.4 688.1 559.2 682.5 560.5 C676.9 561.8 670.4 562.4 665.0 562.5 C659.6 562.6 655.0 562.2 650.0 561.2 C645.0 560.3 637.5 557.7 635.0 557.0 C632.9 558.3 627.1 562.8 622.5 565.0 C617.9 567.2 612.9 568.8 607.5 570.0 C602.1 571.2 595.4 572.2 590.0 572.5 C584.6 572.8 580.0 572.3 575.0 571.5 C570.0 570.7 563.8 568.8 560.0 567.5 C556.2 566.2 555.3 565.6 552.5 563.8 C549.7 561.9 544.6 557.5 543.0 556.2 C541.2 556.8 537.2 558.5 532.5 559.5 C527.8 560.5 520.8 561.7 515.0 562.0 C509.2 562.3 503.3 562.2 497.5 561.2 C491.7 560.3 485.4 558.6 480.0 556.2 C474.6 553.9 469.0 550.5 465.0 547.0 C461.0 543.5 458.0 539.1 456.2 535.0 C454.5 530.9 454.5 526.7 454.5 522.5 C454.5 518.3 454.7 514.2 456.2 510.0 C457.8 505.8 460.2 501.0 463.8 497.5 C467.3 494.0 472.9 490.9 477.5 488.8 C482.1 486.6 489.0 485.2 491.2 484.5 Z" fill="#fff" stroke="#000" stroke-width="2.2" stroke-linejoin="miter"/>
<text y="401.0" font-size="32.5" fill="#262f40" font-weight="bold"><tspan x="296.54" textLength="22.71" lengthAdjust="spacingAndGlyphs">C</tspan><tspan x="319.83" textLength="10.81" lengthAdjust="spacingAndGlyphs">l</tspan><tspan x="330.53" textLength="16.22" lengthAdjust="spacingAndGlyphs">a</tspan><tspan x="348.01" textLength="24.31" lengthAdjust="spacingAndGlyphs">d</tspan><tspan x="372.11" textLength="22.82" lengthAdjust="spacingAndGlyphs">o</tspan><tspan x="394.68" textLength="24.01" lengthAdjust="spacingAndGlyphs">g</tspan><tspan x="418.35" textLength="14.69" lengthAdjust="spacingAndGlyphs">r</tspan><tspan x="432.99" textLength="18.71" lengthAdjust="spacingAndGlyphs">a</tspan><tspan x="454.75" textLength="26.62" lengthAdjust="spacingAndGlyphs">m</tspan></text>
<text y="519.7" font-size="32.5" fill="#262f40" font-weight="bold"><tspan x="73.25" textLength="22.49" lengthAdjust="spacingAndGlyphs">C</tspan><tspan x="96.40" textLength="11.11" lengthAdjust="spacingAndGlyphs">l</tspan><tspan x="107.04" textLength="16.01" lengthAdjust="spacingAndGlyphs">a</tspan><tspan x="124.30" textLength="24.43" lengthAdjust="spacingAndGlyphs">d</tspan><tspan x="147.75" textLength="10.91" lengthAdjust="spacingAndGlyphs">i</tspan><tspan x="157.79" textLength="17.61" lengthAdjust="spacingAndGlyphs">s</tspan><tspan x="175.00" textLength="13.32" lengthAdjust="spacingAndGlyphs">t</tspan><tspan x="188.20" textLength="11.11" lengthAdjust="spacingAndGlyphs">i</tspan><tspan x="198.38" textLength="18.41" lengthAdjust="spacingAndGlyphs">c</tspan><tspan x="216.58" textLength="17.73" lengthAdjust="spacingAndGlyphs">s</tspan></text>
<text y="523.2" font-size="29.7" fill="#262f40" font-weight="bold"><tspan x="542.61" textLength="23.37" lengthAdjust="spacingAndGlyphs">C</tspan><tspan x="565.65" textLength="11.31" lengthAdjust="spacingAndGlyphs">l</tspan><tspan x="575.76" textLength="15.49" lengthAdjust="spacingAndGlyphs">a</tspan><tspan x="592.00" textLength="22.98" lengthAdjust="spacingAndGlyphs">d</tspan><tspan x="614.02" textLength="16.45" lengthAdjust="spacingAndGlyphs">e</tspan></text>
<g font-size="34" fill="#fff" font-weight="bold">
<text x="235.37" y="849.5" textLength="88.57" lengthAdjust="spacingAndGlyphs">Clad</text>
<text x="333.81" y="849.5" textLength="14.11" lengthAdjust="spacingAndGlyphs">-</text>
<text x="357.92" y="849.5" textLength="174.61" lengthAdjust="spacingAndGlyphs">&quot;Branch&quot;</text>
</g>
<rect x="0.5" y="875.1" width="769" height="83.9" fill="#fff" stroke="#3d2d1c" stroke-width="1.1"/>
<path d="M22.5 902.5Q22.5 895 26.5 895L49 895Q52.5 895 53 898.8L159.7 898.8Q163.7 898.8 163.7 902.8L163.7 935.5Q163.7 939.5 159.7 939.5L26.5 939.5Q22.5 939.5 22.5 935.5Z" fill="#2b3447"/>
<path d="M30 893L47 893L47 931L38.6 923.8L30 931Z" fill="#fff"/>
<text x="48.38" y="924.9" textLength="106.18" lengthAdjust="spacingAndGlyphs" font-size="24.6" fill="#fff" font-weight="bold" stroke="#fff" stroke-width="0.35">ordpandit</text>
<text x="263.16" y="925.7" textLength="244.15" lengthAdjust="spacingAndGlyphs" font-size="28" fill="#262f40" font-weight="bold">wordpandit.com</text>
<path d="M605.2 901L605.2 922Q605.2 934 617.5 934.2" fill="none" stroke="#a5c63e" stroke-width="5.5" stroke-linecap="round"/>
<path d="M617.5 934.2Q628.5 933 630 921" fill="none" stroke="#4a2318" stroke-width="5.5"/>
<circle cx="627.8" cy="908" r="11" fill="#c9cdb8" opacity="0.55"/>
<g fill="none" stroke="#4a2a1c" stroke-width="1"><path d="M629.5 921L628 911L624 905M628 911L631 903L629 898M630 908L635 902M626.5 908L621 903M628.5 914L634 910"/></g>
<text x="645.43" y="913.0" textLength="104.62" lengthAdjust="spacingAndGlyphs" font-size="16.5" fill="#3e2218" font-weight="bold">The Learning</text>
<text x="644.47" y="933.4" textLength="103.14" lengthAdjust="spacingAndGlyphs" font-size="16.5" fill="#a0c24e" font-weight="bold">Inc. Network</text>
</svg></body></html>
